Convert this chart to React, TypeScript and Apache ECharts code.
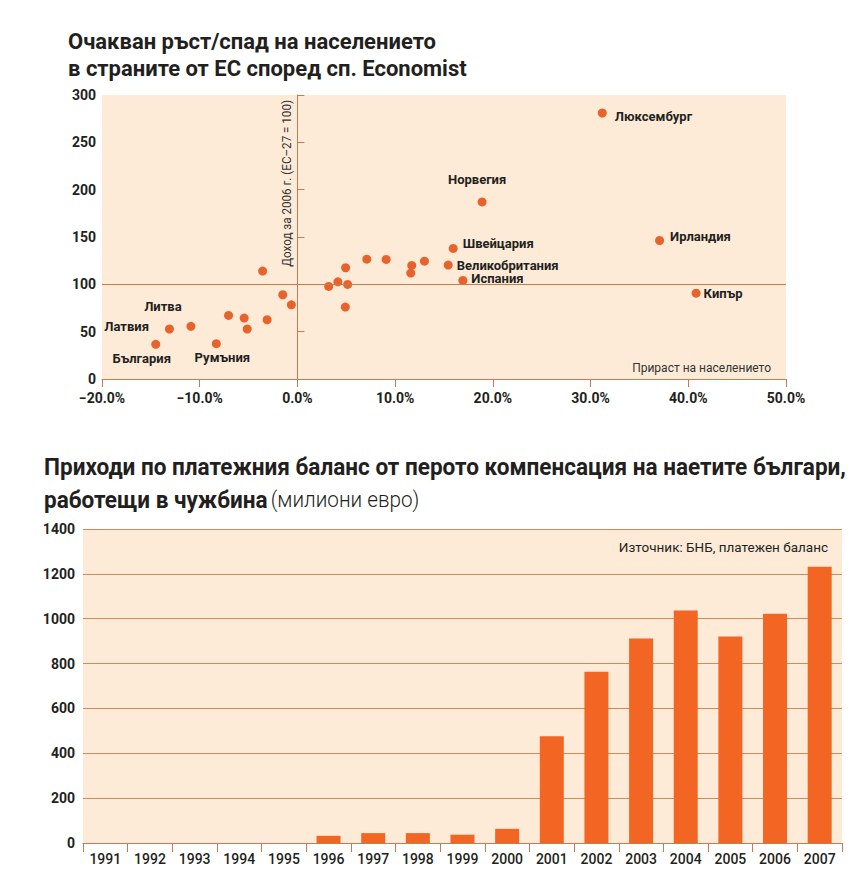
import React, { useEffect, useRef } from "react";
import * as echarts from "echarts";

// ---------- data ----------
const countryNames = [
  "България", "Латвия", "Литва", "Румъния", "", "", "", "", "", "", "",
  "", "", "", "", "", "", "", "", "", "",
  "Швейцария", "Великобритания", "Испания", "Норвегия", "Люксембург", "Ирландия", "Кипър",
];
const popGrowth = [
  -14.5, -13.1, -10.9, -8.3, -7.05, -5.45, -5.14, -3.1, -3.56, -1.5, -0.62,
  3.2, 4.14, 4.93, 5.14, 4.9, 7.1, 9.08, 11.7, 11.6, 13.0,
  15.94, 15.43, 16.93, 18.9, 31.2, 37.06, 40.8,
];
const income = [
  36.6, 52.8, 55.6, 37.3, 67.2, 64.4, 52.8, 62.6, 114, 89, 78.4,
  97.8, 102.7, 117.5, 99.9, 76, 126.6, 126.3, 120, 111.9, 124.5,
  137.9, 120.3, 104.1, 187, 281, 146.3, 90.7,
];
const xTicksMin = -20;
const xTicksMax = 50;
const yTicksMax = 300;

const years = [
  "1991", "1992", "1993", "1994", "1995", "1996", "1997", "1998", "1999",
  "2000", "2001", "2002", "2003", "2004", "2005", "2006", "2007",
];
const compensation = [0, 0, 0, 0, 0, 32, 44, 44, 37, 63, 476, 764, 912, 1037, 921, 1022, 1232];
const barYMax = 1400;

// ---------- styles ----------
const FONT = "Roboto, 'Open Sans', sans-serif";
const BG = "#fdebd8";
const LINE = "#c97b4f";
const DOT = "#e8622c";
const BAR = "#f26522";
const TXT = "#231f20";

const labelPlacement: Record<string, any> = {
  "България": { position: "bottom", distance: 3, offset: [-14, 0] },
  "Латвия": { position: "left", distance: 16, offset: [0, -3] },
  "Литва": { position: "top", distance: 9, offset: [-28, 0] },
  "Румъния": { position: "bottom", distance: 3, offset: [6, 0] },
  "Швейцария": { position: "right", distance: 5, offset: [0, -5] },
  "Великобритания": { position: "right", distance: 4, offset: [0, 0] },
  "Испания": { position: "right", distance: 4, offset: [0, -2] },
  "Норвегия": { position: "top", distance: 11, offset: [-5, 0] },
  "Люксембург": { position: "right", distance: 8, offset: [0, 4] },
  "Ирландия": { position: "right", distance: 6, offset: [0, -4] },
  "Кипър": { position: "right", distance: 3, offset: [0, 0] },
};

export default function App() {
  const ref = useRef<HTMLDivElement>(null);

  useEffect(() => {
    document.body.style.margin = "0";
    if (!ref.current) return;
    const chart = echarts.init(ref.current, undefined, { renderer: "svg" });

    const scatterData = popGrowth.map((x, i) => {
      const name = countryNames[i];
      const item: any = { value: [x, income[i]], name };
      if (name) {
        item.label = {
          show: true,
          formatter: name,
          fontFamily: FONT,
          fontWeight: "bold",
          fontSize: 13,
          color: TXT,
          ...labelPlacement[name],
        };
      }
      return item;
    });

    chart.setOption({
      animation: false,
      textStyle: { fontFamily: FONT },
      grid: [
        { left: 102, top: 95, width: 684, height: 284, show: true, backgroundColor: BG, borderWidth: 0 },
        { left: 83, top: 529, width: 759, height: 314, show: true, backgroundColor: BG, borderWidth: 0 },
      ],
      xAxis: [
        {
          type: "value",
          gridIndex: 0,
          min: xTicksMin,
          max: xTicksMax,
          interval: 10,
          axisLine: { show: true, onZero: false, lineStyle: { color: LINE, width: 1 } },
          axisTick: { show: true, length: 8, lineStyle: { color: LINE } },
          splitLine: { show: false },
          axisLabel: {
            margin: 12,
            color: TXT,
            fontWeight: "bold",
            fontSize: 14,
            fontFamily: FONT,
            formatter: (v: number) => (v < 0 ? "−" : "") + Math.abs(v).toFixed(1) + "%",
          },
        },
        {
          type: "category",
          gridIndex: 1,
          data: years,
          axisLine: { show: true, lineStyle: { color: LINE, width: 1.2 } },
          axisTick: { show: true, length: 9, interval: 0, lineStyle: { color: LINE } },
          axisLabel: { interval: 0, margin: 9, color: TXT, fontSize: 14, fontFamily: FONT, fontWeight: 500 },
        },
      ],
      yAxis: [
        {
          type: "value",
          gridIndex: 0,
          min: 0,
          max: yTicksMax,
          interval: 50,
          axisLine: { show: false },
          axisTick: { show: false },
          splitLine: { show: false },
          axisLabel: { margin: 6, color: TXT, fontWeight: "bold", fontSize: 14, fontFamily: FONT },
        },
        {
          type: "value",
          gridIndex: 0,
          position: "left",
          min: 0,
          max: yTicksMax,
          interval: 50,
          axisLine: { show: true, onZero: true, onZeroAxisIndex: 0, lineStyle: { color: LINE, width: 1 } },
          axisTick: { show: true, inside: true, length: 7, lineStyle: { color: LINE } },
          splitLine: { show: false },
          axisLabel: { show: false },
        },
        {
          type: "value",
          gridIndex: 1,
          min: 0,
          max: barYMax,
          interval: 200,
          axisLine: { show: false },
          axisTick: { show: false },
          splitLine: { show: true, lineStyle: { color: "#d08a5e", width: 1 } },
          axisLabel: {
            margin: 8,
            color: TXT,
            fontWeight: "bold",
            fontSize: 14,
            fontFamily: FONT,
            formatter: (v: number) => String(v),
          },
        },
      ],
      series: [
        {
          type: "scatter",
          xAxisIndex: 0,
          yAxisIndex: 0,
          symbolSize: 9,
          itemStyle: { color: DOT, opacity: 1 },
          data: scatterData,
          markLine: {
            silent: true,
            symbol: "none",
            label: { show: false },
            lineStyle: { color: LINE, width: 1, type: "solid" },
            data: [{ yAxis: 100 }],
          },
          z: 3,
        },
        {
          type: "bar",
          xAxisIndex: 1,
          yAxisIndex: 2,
          barWidth: 24,
          itemStyle: { color: BAR },
          data: compensation,
          z: 3,
        },
      ],
      graphic: [
        {
          type: "text",
          left: 68,
          top: 28,
          style: {
            text: "Очакван ръст/спад на населението\nв страните от ЕС според сп. Economist",
            fontFamily: FONT,
            fontWeight: "bold",
            fontSize: 22,
            lineHeight: 27,
            fill: TXT,
          },
        },
        {
          type: "text",
          x: 44,
          y: 450,
          scaleX: 0.94,
          style: {
            text: "{b|Приходи по платежния баланс от перото компенсация на наетите българи,}\n{b|работещи в чужбина} {r|(милиони евро)}",
            fill: TXT,
            rich: {
              b: { fontFamily: FONT, fontWeight: "bold", fontSize: 24, lineHeight: 33, fill: TXT },
              r: { fontFamily: FONT, fontWeight: 300, fontSize: 22, lineHeight: 33, fill: TXT },
            },
          },
        },
        {
          type: "text",
          x: 287,
          y: 100,
          rotation: Math.PI / 2,
          scaleX: 0.97,
          style: {
            text: "Доход за 2006 г. (ЕС–27 = 100)",
            fontFamily: FONT,
            fontSize: 12,
            fill: "#333",
            align: "right",
            verticalAlign: "middle",
          },
        },
        {
          type: "text",
          x: 771,
          y: 368,
          style: {
            text: "Прираст на населението",
            fontFamily: FONT,
            fontSize: 12,
            fill: "#333",
            align: "right",
            verticalAlign: "middle",
          },
        },
        {
          type: "text",
          x: 828,
          y: 547,
          style: {
            text: "Източник: БНБ, платежен баланс",
            fontFamily: FONT,
            fontSize: 13.5,
            fill: TXT,
            align: "right",
            verticalAlign: "middle",
          },
        },
      ],
    });

    return () => chart.dispose();
  }, []);

  return <div ref={ref} style={{ width: 866, height: 894 }} />;
}
